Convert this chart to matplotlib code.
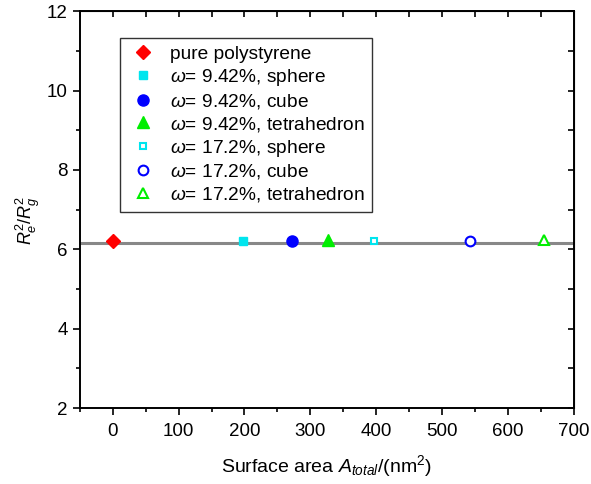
import matplotlib.pyplot as plt
from matplotlib.ticker import MultipleLocator

plt.rcParams['font.family'] = ['Liberation Sans', 'DejaVu Sans']
plt.rcParams['mathtext.fontset'] = 'custom'
plt.rcParams['mathtext.it'] = 'Liberation Sans:italic'
plt.rcParams['mathtext.rm'] = 'Liberation Sans'

# data
labels = ['pure polystyrene',
          r'$\omega$= 9.42%, sphere',
          r'$\omega$= 9.42%, cube',
          r'$\omega$= 9.42%, tetrahedron',
          r'$\omega$= 17.2%, sphere',
          r'$\omega$= 17.2%, cube',
          r'$\omega$= 17.2%, tetrahedron']
area = [0, 198, 272, 327, 396, 543, 654]
ratio = [6.20, 6.21, 6.21, 6.24, 6.20, 6.20, 6.24]
markers = ['D', 's', 'o', '^', 's', 'o', '^']
colors = ['#ff0000', '#00e5ee', '#0000ff', '#00ee00', '#00e5ee', '#0000ff', '#00ee00']
filled = [True, True, True, True, False, False, False]
sizes = [7, 6, 8, 8, 5, 7, 7]
mean_ratio = 6.15

fig = plt.figure(figsize=(5.91, 4.84), dpi=100)
ax = fig.add_axes([0.135, 0.157, 0.836, 0.820])

ax.axhline(mean_ratio, color='#888888', lw=2.2, zorder=1)
for x, y, m, c, f, s, lab in zip(area, ratio, markers, colors, filled, sizes, labels):
    ax.plot(x, y, linestyle='none', marker=m, ms=s, color=c,
            markerfacecolor=c if f else 'white', markeredgewidth=1.5 if not f else 1,
            label=lab, zorder=3)

ax.set_xlim(-50, 700)
ax.set_ylim(2, 12)
ax.xaxis.set_major_locator(MultipleLocator(100))
ax.xaxis.set_minor_locator(MultipleLocator(50))
ax.yaxis.set_major_locator(MultipleLocator(2))
ax.yaxis.set_minor_locator(MultipleLocator(1))
ax.tick_params(which='both', direction='out', labelsize=13.5, width=1.2)
ax.tick_params(which='major', length=5)
ax.tick_params(which='minor', length=3)
ax.tick_params(axis='x', pad=6)

# inward ticks on top and right
top = ax.secondary_xaxis('top')
top.set_xticks(range(-50, 701, 50))
top.tick_params(direction='in', length=4, width=1.2, labeltop=False)
right = ax.secondary_yaxis('right')
right.set_yticks(range(2, 13))
right.tick_params(direction='in', length=4, width=1.2, labelright=False)

for sp in ax.spines.values():
    sp.set_linewidth(1.4)

ax.set_xlabel(r'Surface area $A_{total}$/(nm$^2$)', fontsize=14, labelpad=9)
ax.set_ylabel(r'$R_e^2/R_g^2$', fontsize=13)
ax.yaxis.set_label_coords(-0.077, 0.474)

leg = ax.legend(loc='upper left', bbox_to_anchor=(0.081, 0.932), fontsize=13.8,
                frameon=True, fancybox=False, edgecolor='black', handletextpad=0.6,
                labelspacing=0.2, borderpad=0.4, handlelength=1.6, borderaxespad=0)
leg.get_frame().set_linewidth(1.0)

fig.savefig('out.png', dpi=100)
